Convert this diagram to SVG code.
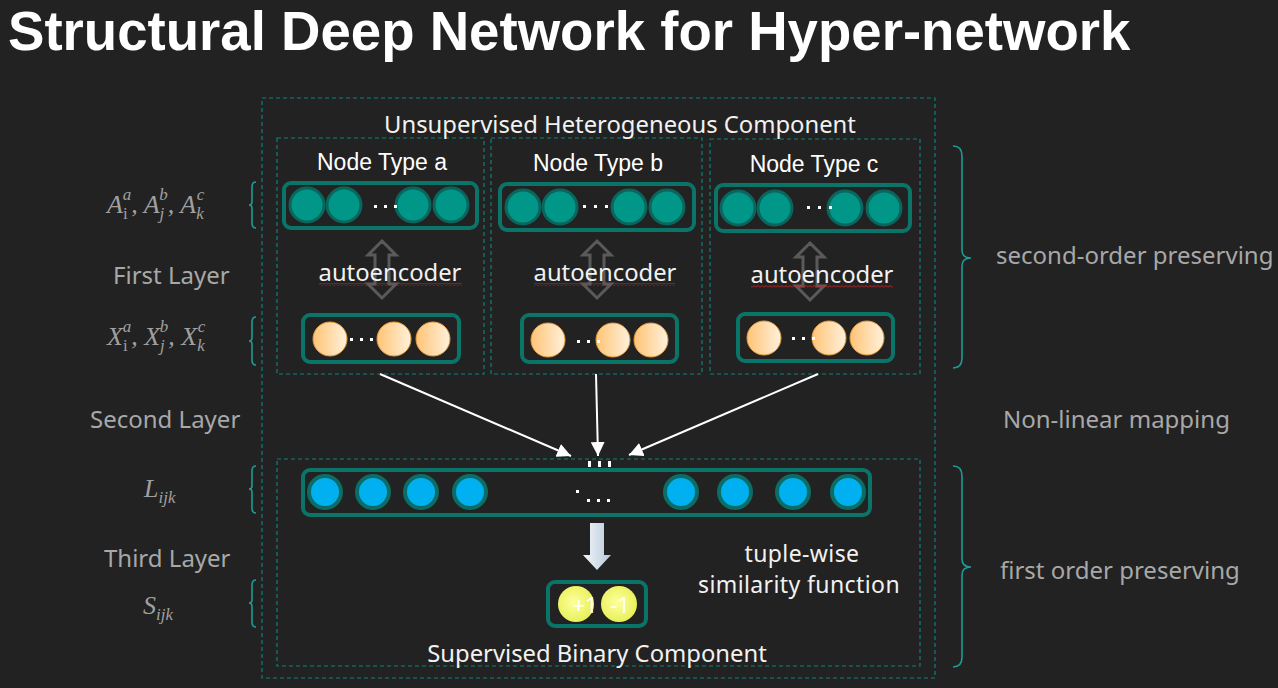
<svg xmlns="http://www.w3.org/2000/svg" width="1278" height="688" viewBox="0 0 1278 688">
<defs>
<style>
.dash{fill:none;stroke:#0e8076;stroke-width:1.2;stroke-dasharray:4 3}
.box{fill:none;stroke:#0b7469;stroke-width:4}
.tc{fill:#009688;stroke:#0a665d;stroke-width:3}
.oc{fill:url(#og);stroke:#e39a3e;stroke-width:1}
.bc{fill:#00b0f0;stroke:#0b6e66;stroke-width:4}
.yc{fill:url(#yg)}
.dbl{fill:none;stroke:#5a5a5a;stroke-width:3;stroke-linejoin:miter}
.brace{fill:none;stroke:#1c9c96;stroke-width:1.6}
.lbl{font-family:"Noto Sans","Open Sans",sans-serif;font-size:24px;fill:#a8a8a8}
.wt{font-family:"Noto Sans","Open Sans",sans-serif;font-size:23.8px;fill:#f2f2f2}
.tw{font-family:"Noto Sans","Open Sans",sans-serif;font-size:23px;letter-spacing:0.4px;fill:#f2f2f2}
.nt{font-family:"Liberation Sans",Arial,sans-serif;font-size:23px;fill:#ffffff}
.math{font-family:"Liberation Serif","DejaVu Serif",serif;font-style:italic;font-size:26px;fill:#a0a0a0}
.sc{font-size:17px}
.dot{fill:#ffffff}
.conn{stroke:#ffffff;stroke-width:2;fill:none}
.squig{fill:url(#sq)}
</style>
<linearGradient id="og" x1="0" y1="0" x2="1" y2="0">
<stop offset="0" stop-color="#ffc476"/>
<stop offset="1" stop-color="#fff1dc"/>
</linearGradient>
<radialGradient id="yg" cx="0.45" cy="0.45" r="0.6">
<stop offset="0" stop-color="#ffff9a"/>
<stop offset="1" stop-color="#e6ef55"/>
</radialGradient>
<linearGradient id="dg" x1="0" y1="0" x2="1" y2="0">
<stop offset="0" stop-color="#f4f8fc"/>
<stop offset="1" stop-color="#b7c8d8"/>
</linearGradient>
<pattern id="sq" x="0" y="0" width="4" height="3" patternUnits="userSpaceOnUse">
<path d="M0,2.5 L2,0.5 L4,2.5" fill="none" stroke="#e02020" stroke-width="0.9"/>
</pattern>
<marker id="ah" viewBox="0 0 10 10" refX="10" refY="5" markerWidth="7" markerHeight="7" orient="auto" markerUnits="strokeWidth">
<path d="M0,0 L10,5 L0,10 Z" fill="#ffffff"/>
</marker>
</defs>
<rect width="1278" height="688" fill="#222222"/>

<text x="8" y="50" font-family="Liberation Sans,Arial,sans-serif" font-weight="bold" font-size="54.6" fill="#ffffff">Structural Deep Network for Hyper-network</text>

<g id="frames">
<rect class="dash" x="262" y="98" width="673" height="580"/>
<rect class="dash" x="277" y="138" width="207" height="236"/>
<rect class="dash" x="491" y="138" width="211" height="236"/>
<rect class="dash" x="710" y="139" width="210" height="235"/>
<rect class="dash" x="277" y="459" width="643" height="207"/>
<text class="wt" x="620" y="133" text-anchor="middle">Unsupervised Heterogeneous Component</text>
<text class="wt" x="597" y="662" text-anchor="middle">Supervised Binary Component</text>
</g>

<g id="left-labels">
<text class="math" x="107" y="213">A<tspan class="sc" dy="6" font-style="normal">i</tspan><tspan class="sc" dx="-5" dy="-19">a</tspan><tspan dy="13">, A</tspan><tspan class="sc" dy="6">j</tspan><tspan class="sc" dx="-5" dy="-19">b</tspan><tspan dy="13">, A</tspan><tspan class="sc" dy="6">k</tspan><tspan class="sc" dx="-7" dy="-19">c</tspan></text>
<text class="lbl" x="113" y="284">First Layer</text>
<text class="math" x="107" y="345">X<tspan class="sc" dy="6" font-style="normal">i</tspan><tspan class="sc" dx="-5" dy="-19">a</tspan><tspan dy="13">, X</tspan><tspan class="sc" dy="6">j</tspan><tspan class="sc" dx="-5" dy="-19">b</tspan><tspan dy="13">, X</tspan><tspan class="sc" dy="6">k</tspan><tspan class="sc" dx="-7" dy="-19">c</tspan></text>
<text class="lbl" x="90" y="428">Second Layer</text>
<text class="math" x="144" y="497">L<tspan class="sc" dy="6">ijk</tspan></text>
<text class="lbl" x="104" y="567">Third Layer</text>
<text class="math" x="143" y="614">S<tspan class="sc" dy="6">ijk</tspan></text>
<path class="brace" d="M256,182 Q252,182 252,187 L252,202 Q252,205 249,205 Q252,205 252,208 L252,223 Q252,228 256,228"/>
<path class="brace" d="M256,317 Q252,317 252,322 L252,338 Q252,341 249,341 Q252,341 252,344 L252,360 Q252,365 256,365"/>
<path class="brace" d="M256,466 Q252,466 252,471 L252,486 Q252,489 249,489 Q252,489 252,492 L252,508 Q252,513 256,513"/>
<path class="brace" d="M256,580 Q252,580 252,585 L252,600 Q252,603 249,603 Q252,603 252,606 L252,622 Q252,627 256,627"/>
</g>

<g id="right-labels">
<path class="brace" d="M953,146 Q962,146 962,156 L962,250 Q962,258 971,258 Q962,258 962,266 L962,358 Q962,368 953,368"/>
<path class="brace" d="M953,466 Q962,466 962,476 L962,559 Q962,567 971,567 Q962,567 962,575 L962,657 Q962,667 953,667"/>
<text class="lbl" x="996" y="264">second-order preserving</text>
<text class="lbl" x="1003" y="428">Non-linear mapping</text>
<text class="lbl" x="1000" y="579">first order preserving</text>
</g>

<g id="type-a">
<text class="nt" x="382" y="170" text-anchor="middle">Node Type a</text>
<rect class="box" x="284" y="183" width="193" height="45" rx="7"/>
<circle class="tc" cx="307" cy="205" r="17"/>
<circle class="tc" cx="344" cy="205" r="17"/>
<circle class="tc" cx="413" cy="205" r="17"/>
<circle class="tc" cx="451" cy="205" r="17"/>
<rect class="dot" x="374" y="205" width="3" height="3"/><rect class="dot" x="384" y="205" width="3" height="3"/><rect class="dot" x="394" y="205" width="3" height="3"/>
<path class="dbl" d="M382,241 L396,255 L389,255 L389,284 L396,284 L382,298 L368,284 L375,284 L375,255 L368,255 Z"/>
<text class="wt" x="390" y="281" text-anchor="middle">autoencoder</text>
<rect class="squig" x="319" y="283" width="143" height="3"/>
<rect class="box" x="303" y="315" width="156" height="47" rx="7"/>
<circle class="oc" cx="330" cy="339" r="17"/>
<circle class="oc" cx="394" cy="339" r="17"/>
<circle class="oc" cx="433" cy="339" r="17"/>
<rect class="dot" x="350" y="338" width="3" height="3"/><rect class="dot" x="360" y="338" width="3" height="3"/><rect class="dot" x="370" y="338" width="3" height="3"/>
</g>

<g id="type-b">
<text class="nt" x="598" y="171" text-anchor="middle">Node Type b</text>
<rect class="box" x="500" y="184" width="194" height="46" rx="7"/>
<circle class="tc" cx="523" cy="207" r="17"/>
<circle class="tc" cx="560" cy="207" r="17"/>
<circle class="tc" cx="629" cy="207" r="17"/>
<circle class="tc" cx="667" cy="207" r="17"/>
<rect class="dot" x="583" y="205" width="3" height="3"/><rect class="dot" x="594" y="205" width="3" height="3"/><rect class="dot" x="605" y="205" width="3" height="3"/>
<path class="dbl" d="M597,241 L611,255 L604,255 L604,284 L611,284 L597,298 L583,284 L590,284 L590,255 L583,255 Z"/>
<text class="wt" x="605" y="281" text-anchor="middle">autoencoder</text>
<rect class="squig" x="534" y="283" width="141" height="3"/>
<rect class="box" x="522" y="315" width="155" height="47" rx="7"/>
<circle class="oc" cx="548" cy="340" r="17"/>
<circle class="oc" cx="613" cy="340" r="17"/>
<circle class="oc" cx="651" cy="340" r="17"/>
<rect class="dot" x="577" y="340" width="3" height="3"/><rect class="dot" x="587" y="340" width="3" height="3"/><rect class="dot" x="597" y="340" width="3" height="3"/>
</g>

<g id="type-c">
<text class="nt" x="814" y="172" text-anchor="middle">Node Type c</text>
<rect class="box" x="716" y="185" width="194" height="46" rx="7"/>
<circle class="tc" cx="738" cy="208" r="17"/>
<circle class="tc" cx="775" cy="208" r="17"/>
<circle class="tc" cx="845" cy="208" r="17"/>
<circle class="tc" cx="884" cy="208" r="17"/>
<rect class="dot" x="807" y="206" width="3" height="3"/><rect class="dot" x="818" y="206" width="3" height="3"/><rect class="dot" x="829" y="206" width="3" height="3"/>
<path class="dbl" d="M810,243 L824,257 L817,257 L817,286 L824,286 L810,300 L796,286 L803,286 L803,257 L796,257 Z"/>
<text class="wt" x="822" y="283" text-anchor="middle">autoencoder</text>
<rect class="squig" x="751" y="285" width="142" height="3"/>
<rect class="box" x="738" y="314" width="155" height="47" rx="7"/>
<circle class="oc" cx="764" cy="338" r="17"/>
<circle class="oc" cx="829" cy="338" r="17"/>
<circle class="oc" cx="867" cy="338" r="17"/>
<rect class="dot" x="792" y="337" width="3" height="3"/><rect class="dot" x="802" y="337" width="3" height="3"/><rect class="dot" x="812" y="337" width="3" height="3"/>
</g>

<g id="connectors">
<line class="conn" x1="380" y1="374" x2="571" y2="456" marker-end="url(#ah)"/>
<line class="conn" x1="596" y1="374" x2="598" y2="456" marker-end="url(#ah)"/>
<line class="conn" x1="818" y1="374" x2="629" y2="455" marker-end="url(#ah)"/>
</g>

<g id="hidden-layer">
<rect class="dot" x="588" y="461" width="3" height="6"/><rect class="dot" x="598" y="461" width="3" height="6"/><rect class="dot" x="608" y="461" width="3" height="6"/>
<rect class="box" x="303" y="470" width="567" height="45" rx="7"/>
<circle class="bc" cx="325" cy="492" r="16"/>
<circle class="bc" cx="373" cy="492" r="16"/>
<circle class="bc" cx="421" cy="492" r="16"/>
<circle class="bc" cx="470" cy="492" r="16"/>
<circle class="bc" cx="681" cy="492" r="16"/>
<circle class="bc" cx="735" cy="492" r="16"/>
<circle class="bc" cx="793" cy="492" r="16"/>
<circle class="bc" cx="848" cy="492" r="16"/>
<rect class="dot" x="576" y="490" width="3" height="3"/>
<rect class="dot" x="587" y="499" width="3" height="3"/><rect class="dot" x="597" y="499" width="3" height="3"/><rect class="dot" x="607" y="499" width="3" height="3"/>
</g>

<g id="output">
<path d="M590,523 L604,523 L604,555 L611,555 L597,570 L583,555 L590,555 Z" fill="url(#dg)"/>
<rect class="box" x="548" y="582" width="98" height="44" rx="7"/>
<circle class="yc" cx="576" cy="604" r="18"/>
<circle class="yc" cx="619" cy="604" r="18"/>
<text x="585" y="613" text-anchor="middle" font-family="Noto Sans,sans-serif" font-size="22" fill="#ffffff">+1</text>
<text x="620" y="613" text-anchor="middle" font-family="Noto Sans,sans-serif" font-size="22" fill="#ffffff">-1</text>
<text class="tw" x="802" y="562" text-anchor="middle">tuple-wise</text>
<text class="tw" x="799" y="593" text-anchor="middle">similarity function</text>
</g>
</svg>
